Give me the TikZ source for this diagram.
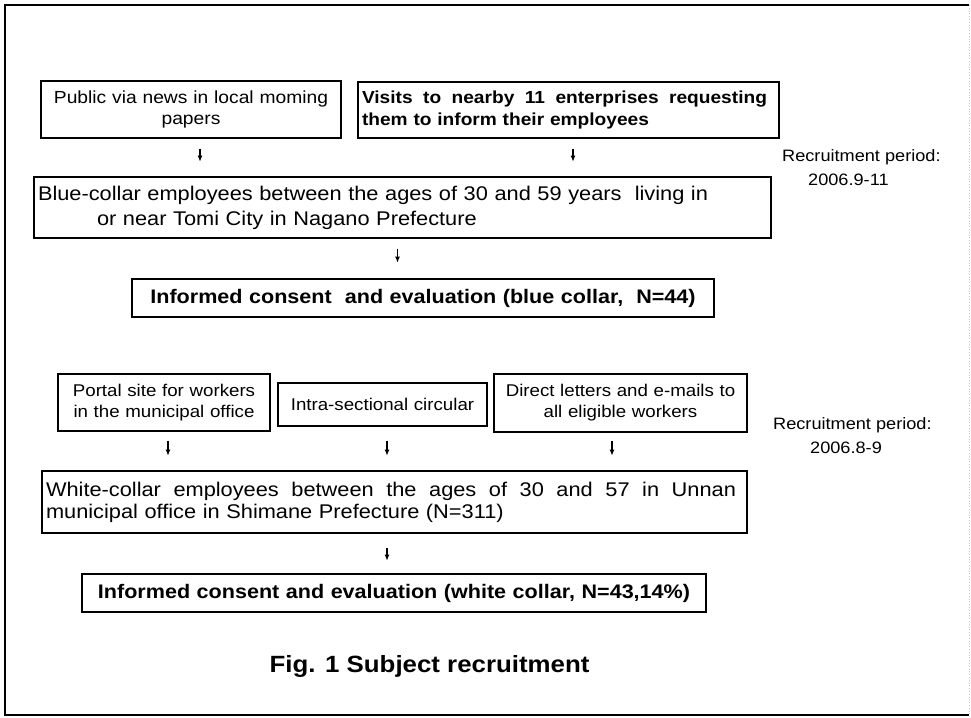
\documentclass[tikz,border=0pt]{standalone}
\usepackage{fontspec}
\setmainfont[FakeStretch=1.1]{Liberation Sans}
\usetikzlibrary{arrows.meta}
\newcommand{\spreadline}[2]{\hbox to #1{#2}}
\begin{document}
\begin{tikzpicture}[x=1pt,y=-1pt,
  box/.style={draw, line width=1.4pt, inner xsep=4pt, inner ysep=0pt},
  arr/.style={line width=1.4pt, -{Latex[length=6pt,width=5pt]}},
  small/.style={font=\fontsize{17}{21}\selectfont},
  big/.style={font=\fontsize{19.8}{25}\selectfont},
  bigb/.style={font=\bfseries\fontsize{19.6}{24}\selectfont},
  note/.style={font=\fontsize{16.5}{24}\selectfont, inner sep=0pt, anchor=north west, align=left}]
\useasboundingbox (0,0) rectangle (971,717);
% frame
\draw[line width=2pt] (969,5) -- (5,5) -- (5,715) -- (969,715);
\draw[line width=0.8pt, gray!45, dotted] (969,5) -- (969,715);

% blue collar
\node[box, minimum width=300pt, minimum height=57pt, text width=292pt, align=center,
      font=\fontsize{17.5}{21}\selectfont] (A) at (191,109.5)
  {Public via news in local moming\\papers};
\node[box, minimum width=421pt, minimum height=56pt, text width=413pt, align=left,
      font=\bfseries\fontsize{17.4}{22}\selectfont] (B) at (568.5,110)
  {\spreadline{405pt}{Visits\hfill to\hfill nearby\hfill 11\hfill enterprises\hfill requesting}\\them to inform their employees};
\node[box, big, minimum width=737pt, minimum height=61pt, text width=729pt, align=left] (C) at (402.5,207.5)
  {Blue-collar employees between the ages of 30 and 59 years\ \ living in\\\hspace*{59pt}or near Tomi City in Nagano Prefecture};
\node[box, bigb, minimum width=582pt, minimum height=38pt, text width=574pt, align=center] (D) at (423,298)
  {Informed consent\ \ and evaluation (blue collar,\ \ N=44)};
\node[note] (R1) at (782,149) {Recruitment period:\\\hspace*{26pt}2006.9-11};

\draw[arr] (A.south) ++(9,10) -- ++(0,13);
\draw[arr] (B.south) ++(4.5,10) -- ++(0,13);
\draw[arr] (C.south) ++(-5,10) -- ++(0,14);

% white collar
\node[box, small, minimum width=212pt, minimum height=57pt, text width=204pt, align=center] (E) at (164,402.5)
  {Portal site for workers\\in the municipal office};
\node[box, small, minimum width=209pt, minimum height=43pt, text width=201pt, align=center] (F) at (382.5,404.5)
  {Intra-sectional circular};
\node[box, small, minimum width=253pt, minimum height=58pt, text width=245pt, align=center] (G) at (620.5,403)
  {Direct letters and e-mails to\\all eligible workers};
\node[note] (R2) at (773,417) {Recruitment period:\\\hspace*{37pt}2006.8-9};
\node[box, font=\fontsize{19.8}{22}\selectfont, minimum width=705pt, minimum height=62pt, text width=697pt, align=left] (H) at (394.5,502)
  {\spreadline{690pt}{White-collar\hfill employees\hfill between\hfill the\hfill ages\hfill of\hfill 30\hfill and\hfill 57\hfill in\hfill Unnan}\\municipal office in Shimane Prefecture (N=311)};
\node[box, bigb, minimum width=624pt, minimum height=38pt, text width=616pt, align=center] (I) at (394,593)
  {Informed consent and evaluation (white collar, N=43,14\%)};

\draw[arr] (E.south) ++(4,9) -- ++(0,15);
\draw[arr] (F.south) ++(4.5,14) -- ++(0,15);
\draw[arr] (G.south) ++(-8.5,8) -- ++(0,15);
\draw[arr] (H.south) ++(-7.5,14) -- ++(0,13);

\node[font=\bfseries\fontsize{23.5}{28}\selectfont, inner sep=0pt] (T) at (429.5,666) {Fig. 1 Subject recruitment};
\end{tikzpicture}
\end{document}
